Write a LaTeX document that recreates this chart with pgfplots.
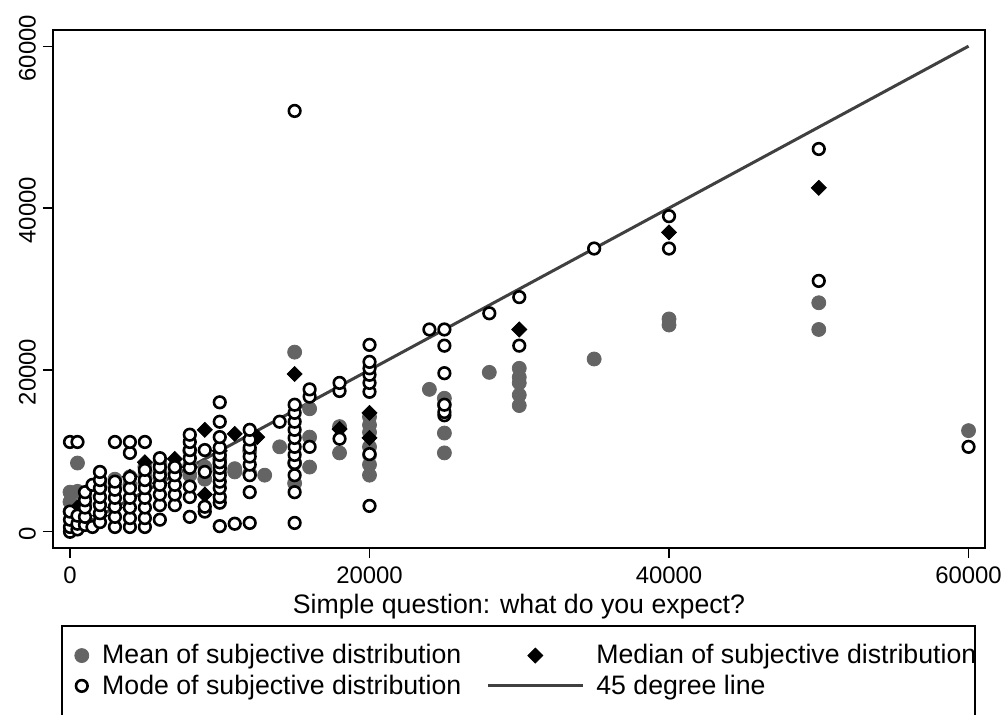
\documentclass[border=0pt]{standalone}
\usepackage{fontspec}
\setmainfont{Liberation Sans}
\usepackage{pgfplots}
\pgfplotsset{compat=1.18}
\usetikzlibrary{calc}
\definecolor{meangray}{RGB}{100,100,100}
\definecolor{linegray}{RGB}{64,64,64}
\pgfplotsset{
    smalldot/.style={legend image code/.code={\path (-4bp,0) (4bp,0); \draw[##1] plot coordinates {(0bp,0bp)};}},
    widedot/.style={legend image code/.code={\path (-23.75bp,0) (23.75bp,0); \draw[##1] plot coordinates {(0bp,0bp)};}},
    wideline/.style={legend image code/.code={\draw[##1] (-23.75bp,0bp) -- (23.75bp,0bp);}},
}

\begin{document}
\begin{tikzpicture}
\begin{axis}[
    name=ax,
    scale only axis,
    width=466bp, height=259bp,
    xmin=-1135, xmax=61100,
    ymin=-2000, ymax=62000,
    xtick={0,20000,40000,60000},
    ytick={0,20000,40000,60000},
    scaled ticks=false,
    /pgf/number format/1000 sep={},
    /pgf/number format/assume math mode=true,
    tick align=outside,
    xtick pos=bottom, ytick pos=left,
    major tick length=5bp,
    tick style={black, line width=0.6bp},
    axis line style={black, line width=0.6bp},
    ticklabel style={font=\fontsize{12}{14}\selectfont},
    yticklabel style={rotate=90, anchor=south, xshift=-1bp},
    xticklabel style={yshift=-1bp},
    xlabel={Simple question: what do you expect?},
    xlabel style={at={(axis description cs:0.5,0)}, anchor=center, yshift=-29.5bp,
        font=\fontsize{13.4}{15}\selectfont},
    legend columns=2,
    legend cell align=left,
    legend style={
        at={(axis description cs:0,0)}, anchor=north west,
        xshift=10bp, yshift=-48bp,
        draw=none, fill=none,
        inner sep=0pt,
        font=\fontsize{13.4}{15}\selectfont,
        nodes={inner sep=0pt},
        row sep=4bp,
        /tikz/every odd column/.append style={column sep=6bp},
        /tikz/column 2/.append style={column sep=12.5bp},
    },
]
% mean of subjective distribution
\addplot[only marks, mark=*, mark size=3.5bp, color=meangray, smalldot]
coordinates {
(0,4900)(0,3700)(0,2500)(500,8500)(500,5000)(1000,4500)(1000,3500)
(2000,5500)(2000,6000)(3000,6500)(3000,5500)(4000,6800)(4000,5800)
(5000,7000)(5000,8000)(5000,6000)(6000,6600)(6000,7500)(6000,8500)
(7000,7200)(7000,8000)(8000,7000)(8000,8200)(8000,10000)(9000,8000)(9000,6500)
(10000,7500)(10000,8400)(10000,9000)(11000,7800)(11000,7400)(12000,7200)
(13000,7000)(12000,10000)
(14000,10500)(15000,22200)(15000,6000)(15000,8500)
(16000,15200)(16000,11700)(16000,8000)(18000,13000)(18000,9750)
(20000,14200)(20000,13200)(20000,12300)(20000,10500)(20000,9500)(20000,8300)(20000,7000)
(24000,17600)(25000,16500)(25000,15700)(25000,12200)(25000,9750)
(28000,19700)(30000,20200)(30000,19100)(30000,18400)(30000,16900)(30000,15600)
(35000,21350)(40000,26300)(40000,25550)(50000,28300)(50000,25000)(60000,12500)
};
\addlegendentry{Mean of subjective distribution}
% median of subjective distribution
\addplot[only marks, mark=square*, mark size=2.65bp, color=black,
    mark options={rotate=45}, widedot]
coordinates {
(500,3000)(1000,1000)(2000,2000)(3000,3000)(4000,6800)(5000,8600)(6000,6000)
(7000,9000)(8000,8000)(9000,4600)(9000,12600)(10000,10000)(11000,12100)(12500,11700)
(15000,19500)(18000,12700)(20000,14700)(20000,11600)
(30000,25000)(40000,37000)(50000,42500)
};
\addlegendentry{Median of subjective distribution}
% mode of subjective distribution
\addplot[only marks, mark=*, mark size=2.9bp,
    mark options={draw=black, fill=white, line width=1.3bp}, smalldot]
coordinates {
(0,0)(0,600)(0,1500)(0,2500)(0,11100)
(500,11100)(500,300)(500,1000)(500,2000)
(1000,850)(1000,1850)(1000,3000)(1000,3900)(1000,4900)
(1500,5800)(1500,600)
(2000,1200)(2000,2300)(2000,3300)(2000,4300)(2000,5400)(2000,6400)(2000,7400)
(3000,600)(3000,1850)(3000,3100)(3000,4200)(3000,5200)(3000,6200)(3000,11100)
(4000,600)(4000,1700)(4000,3000)(4000,4200)(4000,5400)(4000,6700)(4000,9750)(4000,11100)
(5000,600)(5000,1700)(5000,3000)(5000,4200)(5000,5400)(5000,6400)(5000,7650)(5000,11100)
(6000,1500)(6000,3300)(6000,4600)(6000,5800)(6000,7000)(6000,8000)(6000,9100)
(7000,3300)(7000,4600)(7000,5800)(7000,7000)(7000,8000)
(8000,1850)(8000,4300)(8000,5600)(8000,7900)(8000,9100)(8000,10100)(8000,11100)(8000,12000)
(9000,2500)(9000,3100)(9000,7400)(9000,10100)
(10000,700)(10000,3600)(10000,4300)(10000,5400)(10000,6200)(10000,7000)(10000,7900)
(10000,8600)(10000,9500)(10000,10400)(10000,11700)(10000,13600)(10000,16000)
(11000,1000)
(12000,1100)(12000,4900)(12000,7000)(12000,8300)(12000,9300)(12000,10400)(12000,11400)(12000,12600)
(14000,13600)
(15000,1100)(15000,4900)(15000,7000)(15000,8500)(15000,9500)(15000,10500)(15000,11600)
(15000,12600)(15000,13600)(15000,14700)(15000,15700)(15000,52000)
(16000,10500)(16000,16700)(16000,17600)
(18000,11500)(18000,17400)(18000,18400)
(20000,3200)(20000,9600)(20000,17300)(20000,18400)(20000,19400)(20000,20200)(20000,21000)(20000,23100)
(24000,25000)
(25000,14400)(25000,14800)(25000,15700)(25000,19600)(25000,23000)(25000,25000)
(28000,27000)(30000,23000)(30000,29000)(35000,35000)(40000,35000)(40000,39000)
(50000,31000)(50000,47300)(60000,10500)
};
\addlegendentry{Mode of subjective distribution}
% 45 degree line
\addplot[no marks, color=linegray, line width=1.5bp, wideline]
coordinates {(200,200)(60000,60000)};
\addlegendentry{45 degree line}
\end{axis}
\draw[black, line width=0.6bp] ($(ax.south west)+(4.5bp,-200bp)$) |- ($(ax.south east)+(-5bp,-39bp)$) -- ++(0,-200bp);
\pgfresetboundingbox
\path[use as bounding box] ($(ax.south west)+(-26.5bp,-83.5bp)$) rectangle ($(ax.north east)+(11.5bp,15bp)$);
\end{tikzpicture}
\end{document}
